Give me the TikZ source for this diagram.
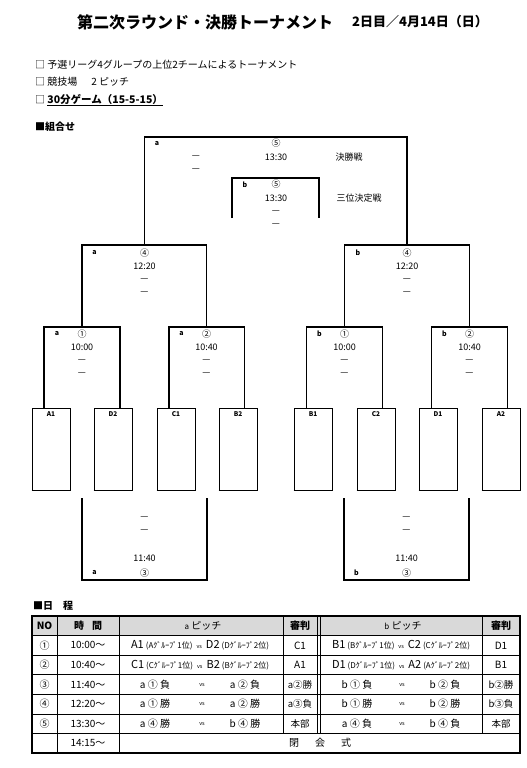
\documentclass[tikz,border=0pt]{standalone}
\usepackage{fontspec}
\setmainfont{Noto Sans CJK JP}
\usetikzlibrary{positioning,calc}
\definecolor{headgray}{RGB}{217,217,217}
\newcommand{\fsz}[1]{\fontsize{#1}{#1}\selectfont}
% one match of the first round: team (group rank) vs team (group rank)
\newcommand{\pairing}[6]{{\fsz{11}#1}\hspace{2pt}{\fsz{8}(#2ｸﾞﾙｰﾌﾟ#3位)}\hspace{4pt}{\fsz{5.5}vs}\hspace{4pt}{\fsz{11}#4}\hspace{2pt}{\fsz{8}(#5ｸﾞﾙｰﾌﾟ#6位)}}
\tikzset{
  brk/.style={line width=1.2pt},
  txt/.style={inner sep=0pt,font=\fsz{9}},
  pitch/.style={inner sep=0pt,font=\bfseries\fsz{7}},
  team/.style={draw,line width=0.9pt,minimum width=38pt,minimum height=82pt,inner sep=0pt},
  teamlbl/.style={inner sep=0pt,font=\bfseries\fsz{6.5}},
  head/.style={inner sep=0pt,anchor=west,font=\fsz{10}},
  cell/.style={inner sep=0pt,font=\fsz{10}},
  tline/.style={line width=0.8pt},
}
\begin{document}
\begin{tikzpicture}[x=1pt,y=-1pt]
\useasboundingbox (0,0) rectangle (527,768);
% heading
\node[inner sep=0pt,anchor=west,font=\bfseries\fsz{16}] (title) at (77,22) {第二次ラウンド・決勝トーナメント};
\node[inner sep=0pt,anchor=west,font=\bfseries\fsz{13}] (date) at (352,22) {2日目／4月14日（日）};
\node[head] (note1) at (35,65) {□ 予選リーグ4グループの上位2チームによるトーナメント};
\node[head] (note2) at (35,82) {□ 競技場\hspace{14pt}2 ピッチ};
\node[head] (note3) at (35,100) {□ \underline{\bfseries\fsz{10.5}30分ゲーム（15-5-15）}};
\node[head,font=\bfseries\fsz{10}] (sec1) at (35,127) {■組合せ};
% teams
\foreach \t/\x in {A1/51,D2/113,C1/176,B2/238,B1/313,C2/376,D1/438,A2/501}{
\node[team] (\t) at (\x,449) {};
\node[teamlbl] (\t-l) at ([yshift=-7pt]\t.north) {\t};
\draw[line width=1.6pt] (\t.south west) -- (\t.south east);
}
% bracket points
\coordinate (qa1) at (82,327);
\coordinate (qa2) at (206.5,327);
\coordinate (qb1) at (344.5,327);
\coordinate (qb2) at (469.5,327);
\coordinate (sa) at (144.5,245);
\coordinate (sb) at (407,245);
\coordinate (fin) at (276,137);
\coordinate (thd) at (275.5,178);
\coordinate (thL) at (232,218);
\coordinate (thR) at (319,218);
\draw[brk] ($(A1.north)+(-7,0)$) |- (qa1) -| ($(D2.north)+(7,0)$);
\draw[brk] ($(C1.north)+(-7,0)$) |- (qa2) -| ($(B2.north)+(6.5,0)$);
\draw[brk] ($(B1.north)+(-6.5,0)$) |- (qb1) -| ($(C2.north)+(6.5,0)$);
\draw[brk] ($(D1.north)+(-6.5,0)$) |- (qb2) -| ($(A2.north)+(6.5,0)$);
\draw[brk] (qa1) |- (sa) -| (qa2);
\draw[brk] (qb1) |- (sb) -| (qb2);
\draw[brk] (sa) |- (fin) -| (sb);
\draw[brk] (thL) |- (thd) -| (thR);
% 3rd place games
\foreach \m/\l/\c/\r in {ca/82/144.5/207,cb/344/406.5/469}{
\coordinate (\m L) at (\l,498);
\coordinate (\m) at (\c,580);
\coordinate (\m R) at (\r,498);
\draw[brk] (\m L) |- (\m) -| (\m R);
}
% match texts
\foreach \m/\p/\c/\x/\y/\o/\tm in {qa1/a/①/82/334/25/10:00,qa2/a/②/206.5/334/25/10:40,
qb1/b/①/344.5/334/25/10:00,qb2/b/②/469.5/334/25/10:40,sa/a/④/144.5/253/50/12:20,sb/b/④/407/253/49/12:20}{
\node[pitch] (\m-p) at (\x-\o,\y) {\p};
\node[txt] (\m-c) at (\x,\y) {\c};
\node[txt] (\m-t) at (\x,\y+13.5) {\tm};
\node[txt] (\m-d1) at (\x,\y+27) {—};
\node[txt] (\m-d2) at (\x,\y+40) {—};
}
\foreach \m/\p/\x in {ca/a/144.5,cb/b/406.5}{
\node[txt] (\m-d1) at (\x,518) {—};
\node[txt] (\m-d2) at (\x,531) {—};
\node[txt] (\m-t) at (\x,558) {11:40};
\node[txt] (\m-c) at (\x,573) {③};
\node[pitch] (\m-p) at (\x-50,573) {\p};
}
\node[pitch] (fin-p) at (157,144) {a};
\node[txt] (fin-c) at (276,143) {⑤};
\node[txt] (fin-t) at (276,157) {13:30};
\node[txt] (fin-n) at (349,157) {決勝戦};
\node[txt] (fin-d1) at (196,157) {—};
\node[txt] (fin-d2) at (196,170) {—};
\node[pitch] (thd-p) at (245,185) {b};
\node[txt] (thd-c) at (276,184) {⑤};
\node[txt] (thd-t) at (276,198) {13:30};
\node[txt] (thd-n) at (359,198) {三位決定戦};
\node[txt] (thd-d1) at (276,212) {—};
\node[txt] (thd-d2) at (276,225) {—};
% schedule table
\node[head,font=\bfseries\fsz{10}] (sec2) at (33,606) {■日\hspace{10pt}程};
\fill[headgray] (32,616) rectangle (520,635.6);
\foreach \y in {635.6,655.1,674.7,694.3,713.9,733.4}
\draw[tline] (32,\y) -- (520,\y);
\foreach \x in {57,119}
\draw[tline] (\x,616) -- (\x,753);
\foreach \x in {283,317,320,482}
\draw[tline] (\x,616) -- (\x,733.4);
\draw[line width=1.6pt] (32,616) rectangle (520,753);
\node[cell,font=\bfseries\fsz{10}] (h-no) at (44.5,625.8) {NO};
\node[cell,font=\bfseries\fsz{10}] (h-tm) at (88,625.8) {時\hspace{8pt}間};
\node[cell] (h-a) at (203,625.8) {{\fsz{8}a} ピッチ};
\node[cell,font=\bfseries\fsz{10}] (h-ra) at (300,625.8) {審判};
\node[cell] (h-b) at (403,625.8) {{\fsz{8}b} ピッチ};
\node[cell,font=\bfseries\fsz{10}] (h-rb) at (501,625.8) {審判};
\node[cell] (r1-no) at (44.5,645.4) {①};
\node[cell] (r1-tm) at (88,645.4) {10:00～};
\node[cell] (r1-a) at (200,645.4) {\pairing{A1}{A}{1}{D2}{D}{2}};
\node[cell] (r1-ra) at (300,645.4) {C1};
\node[cell] (r1-b) at (401,645.4) {\pairing{B1}{B}{1}{C2}{C}{2}};
\node[cell] (r1-rb) at (501,645.4) {D1};
\node[cell] (r2-no) at (44.5,664.9) {②};
\node[cell] (r2-tm) at (88,664.9) {10:40～};
\node[cell] (r2-a) at (200,664.9) {\pairing{C1}{C}{1}{B2}{B}{2}};
\node[cell] (r2-ra) at (300,664.9) {A1};
\node[cell] (r2-b) at (401,664.9) {\pairing{D1}{D}{1}{A2}{A}{2}};
\node[cell] (r2-rb) at (501,664.9) {B1};
\foreach \y/\c/\t/\al/\ar/\ja/\bl/\br/\jb [count=\i from 3] in {
684.5/③/11:40/a ① 負/a ② 負/a②勝/b ① 負/b ② 負/b②勝,
704.1/④/12:20/a ① 勝/a ② 勝/a③負/b ① 勝/b ② 勝/b③負,
723.6/⑤/13:30/a ④ 勝/b ④ 勝/本部/a ④ 負/b ④ 負/本部}{
\node[cell] (r\i-no) at (44.5,\y) {\c};
\node[cell] (r\i-tm) at (88,\y) {\t～};
\node[cell] (r\i-al) at (155,\y) {\al};
\node[cell,font=\fsz{5.5}] (r\i-va) at (202,\y) {vs};
\node[cell] (r\i-ar) at (245,\y) {\ar};
\node[cell,font=\fsz{9.5}] (r\i-ra) at (300,\y) {\ja};
\node[cell] (r\i-bl) at (357,\y) {\bl};
\node[cell,font=\fsz{5.5}] (r\i-vb) at (402,\y) {vs};
\node[cell] (r\i-br) at (445,\y) {\br};
\node[cell,font=\fsz{9.5}] (r\i-rb) at (501,\y) {\jb};
}
\node[cell] (r6-tm) at (88,743.2) {14:15～};
\node[cell] (r6-cl) at (320,743.2) {閉\hspace{16pt}会\hspace{16pt}式};
\end{tikzpicture}
\end{document}
